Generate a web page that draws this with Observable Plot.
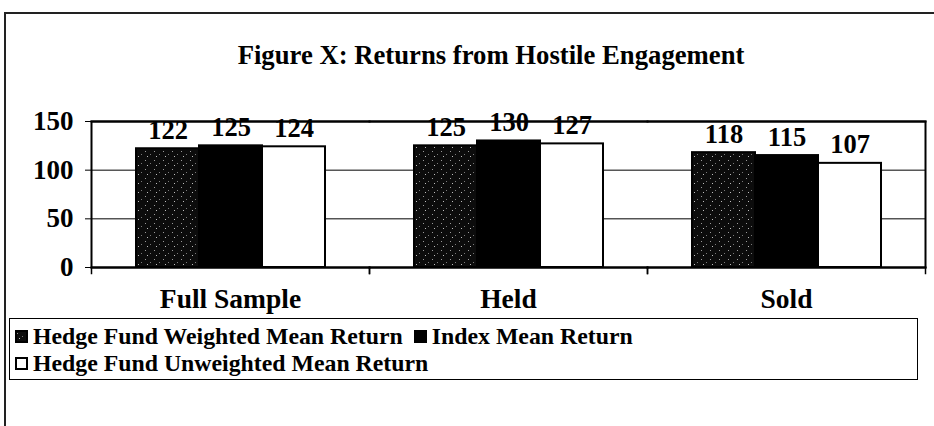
<!DOCTYPE html>
<html>
<head>
<meta charset="utf-8">
<script src="https://cdn.jsdelivr.net/npm/d3@7"></script>
<script src="https://cdn.jsdelivr.net/npm/@observablehq/plot@0.6"></script>
<style>
  html, body { margin: 0; padding: 0; background: #fff; }
  #page { position: relative; width: 934px; height: 426px; overflow: hidden; background: #fff; font-family: "Liberation Serif", "Times New Roman", serif; }
  #outer { position: absolute; left: 4px; top: 12px; width: 940px; height: 430px; border-top: 2px solid #222; border-left: 2px solid #222; box-sizing: border-box; }
  #title { position: absolute; left: 491px; top: 42px; transform: translateX(-50%); white-space: nowrap; font-weight: bold; font-size: 26.7px; line-height: 1; color: #000; }
  #chart { position: absolute; left: 0; top: 95px; }
  #legend { position: absolute; left: 9px; top: 318px; width: 909px; height: 62px; border: 1.5px solid #000; box-sizing: border-box; padding: 4px 0 0 6px; }
  #legend > div { font-family: "Liberation Serif", "Times New Roman", serif !important; font-weight: bold !important; font-size: 23.8px !important; color: #000; margin: 0 !important; min-height: 0 !important; line-height: 27px; }
  #legend span { margin-right: 12px !important; line-height: 27px; }
  #legend span > svg { margin-right: 6px !important; overflow: visible; }
  #legend svg rect { stroke: #000; stroke-width: 2px; }
</style>
</head>
<body>
<div id="page">
  <div id="outer"></div>
  <div id="title">Figure X: Returns from Hostile Engagement</div>
  <div id="chart"></div>
  <div id="legend"></div>
</div>
<script>
const categories = ["Full Sample", "Held", "Sold"];
const series = ["Hedge Fund Weighted Mean Return", "Index Mean Return", "Hedge Fund Unweighted Mean Return"];
const weightedMean = [122, 125, 118];
const indexMean = [125, 130, 115];
const unweightedMean = [124, 127, 107];
const yTicks = [0, 50, 100, 150];
const seriesFills = ["url(#speckle)", "#000", "#fff"];

const valuesBySeries = [weightedMean, indexMean, unweightedMean];
const data = [];
categories.forEach((c, i) => {
  series.forEach((s, j) => data.push({category: c, series: s, value: valuesBySeries[j][i]}));
});

const font = "'Liberation Serif', 'Times New Roman', serif";

const chart = Plot.plot({
  width: 934,
  height: 225,
  marginLeft: 91,
  marginRight: 9,
  marginTop: 26,
  marginBottom: 53,
  style: {fontFamily: font, fontWeight: "bold", fontSize: "27px", color: "#000", background: "transparent", overflow: "visible"},
  fx: {domain: categories, padding: 0, label: null},
  x: {domain: series, paddingInner: 0, paddingOuter: 0.7, axis: null},
  y: {domain: [0, 150], label: null},
  color: {domain: series, range: seriesFills},
  marks: [
    Plot.gridY(yTicks.filter(d => d > 0 && d < 150), {stroke: "#000", strokeOpacity: 1, strokeWidth: 1}),
    Plot.barY(data, {fx: "category", x: "series", y: "value", fill: "series", stroke: "#000", strokeWidth: 2}),
    Plot.text(data, {fx: "category", x: "series", y: "value", text: d => String(d.value), lineAnchor: "bottom", dy: -10, fontSize: 26.5, fontWeight: "bold", fill: "#000"}),
    Plot.frame({anchor: "top", stroke: "#000", strokeWidth: 2}),
    Plot.frame({anchor: "bottom", stroke: "#000", strokeWidth: 2}),
    Plot.frame({anchor: "left", stroke: "#000", strokeWidth: 1.5, insetTop: 146, insetBottom: -6}),
    Plot.frame({anchor: "right", stroke: "#000", strokeWidth: 1.5, insetTop: 146, insetBottom: -6}),
    Plot.frame({facet: "super", stroke: "#000", strokeWidth: 2}),
    Plot.axisY(yTicks, {tickSize: 6, tickPadding: 12, fontSize: 27, fontWeight: "bold", label: null, stroke: "#000"}),
    Plot.axisFx({anchor: "bottom", tickSize: 0, tickPadding: 21, fontSize: 27.5, fontWeight: "bold", label: null})
  ]
});

chart.insertAdjacentHTML("afterbegin",
  '<defs><pattern id="speckle" width="9" height="9" patternUnits="userSpaceOnUse">' +
  '<rect width="9" height="9" fill="#0c0c0c"/>' +
  '<rect x="1" y="2" width="1" height="1" fill="#9a9a9a"/>' +
  '<rect x="6" y="5" width="1" height="1" fill="#7a7a7a"/>' +
  '<rect x="3" y="7" width="1" height="1" fill="#bdbdbd"/>' +
  '</pattern></defs>');

document.getElementById("chart").appendChild(chart);

const legend = chart.legend("color", {swatchSize: 11, className: "lg"});
document.getElementById("legend").appendChild(legend);
</script>
</body>
</html>
